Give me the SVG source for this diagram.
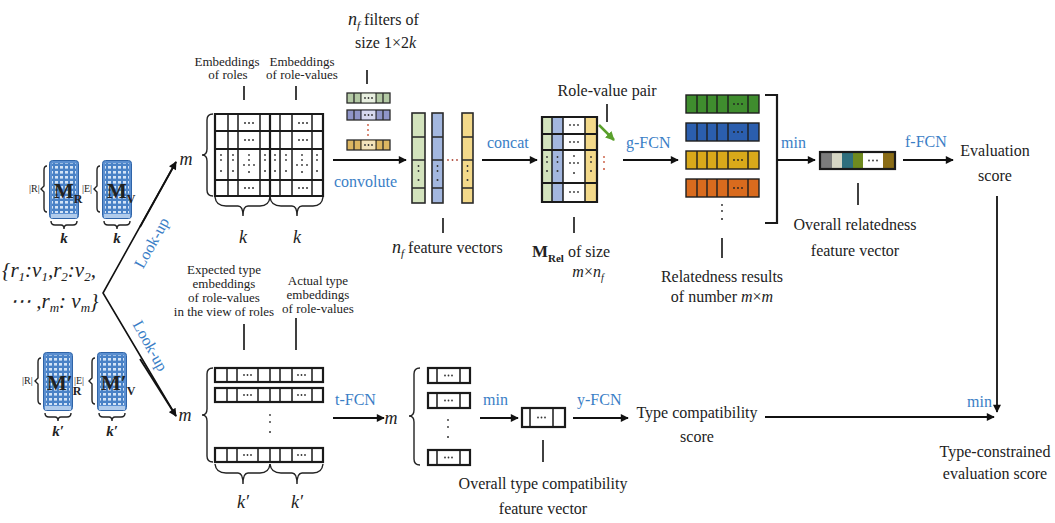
<svg xmlns="http://www.w3.org/2000/svg" width="1055" height="523" viewBox="0 0 1055 523">
  <style>
    text { font-family: "Liberation Serif", "Times New Roman", serif; fill: #222; }
    .s { font-size: 13px; }
    .n { font-size: 16px; }
    .b { font-size: 16px; fill: #3a7ec6; }
    .it { font-style: italic; }
    .bd { font-weight: bold; }
    .c { text-anchor: middle; }
    .ln { stroke: #111; stroke-width: 1.6; fill: none; }
    .arr { stroke: #111; stroke-width: 1.8; fill: none; marker-end: url(#ah); }
    .g { stroke: #1a1a1a; stroke-width: 1.5; fill: none; }
    .gb { stroke: #1a1a1a; stroke-width: 2.2; fill: none; }
    .d { fill: #333; }
    .br { stroke: #222; stroke-width: 1.4; fill: none; }
  </style>
  <defs>
    <marker id="ah" viewBox="0 0 10 10" refX="9" refY="5" markerWidth="9" markerHeight="8" markerUnits="userSpaceOnUse" orient="auto">
      <path d="M0,0 L10,5 L0,10 z" fill="#111"/>
    </marker>
    <marker id="ahg" viewBox="0 0 10 10" refX="9" refY="5" markerWidth="9" markerHeight="9" markerUnits="userSpaceOnUse" orient="auto">
      <path d="M0,0 L10,5 L0,10 z" fill="#5aa02c"/>
    </marker>
    <pattern id="cells" width="5" height="5" patternUnits="userSpaceOnUse">
      <rect width="5" height="5" fill="#4a82c6"/>
      <rect x="1" y="1" width="3" height="2.6" fill="#d4e4f6"/>
    </pattern>
    <!-- embedding matrix icon: blue sheet with a cell grid -->
    <symbol id="mat" viewBox="0 0 30 62">
      <rect x="0.5" y="0.5" width="29" height="58" rx="3" fill="#5b8fd0" stroke="#2f64a8"/>
      <rect x="3" y="3" width="24" height="50" fill="url(#cells)"/>
      <rect x="2" y="54" width="26" height="4" fill="#b0cbeb"/>
    </symbol>
  </defs>

  <rect width="1055" height="523" fill="#fff"/>

  <!-- input role-value set -->
  <g id="input">
    <text x="2" y="277" class="it" font-size="21">{<tspan>r</tspan><tspan font-size="13" dy="4">1</tspan><tspan dy="-4">:</tspan><tspan>v</tspan><tspan font-size="13" dy="4">1</tspan><tspan dy="-4">,</tspan><tspan>r</tspan><tspan font-size="13" dy="4">2</tspan><tspan dy="-4">:</tspan><tspan>v</tspan><tspan font-size="13" dy="4">2</tspan><tspan dy="-4">,</tspan></text>
    <text x="10" y="308" class="it" font-size="21">⋯ ,<tspan>r</tspan><tspan font-size="13" dy="4">m</tspan><tspan dy="-4">: </tspan><tspan>v</tspan><tspan font-size="13" dy="4">m</tspan><tspan dy="-4">}</tspan></text>
  </g>

  <!-- embedding tables -->
  <g id="mat-r">
    <use href="#mat" x="49" y="160" width="30" height="62"/>
    <path class="br" d="M47,166 Q44,166 44,170 L44,186 L41,189 L44,192 L44,208 Q44,212 47,212"/>
    <text x="29" y="192" font-size="10">|R|</text>
    <text x="54" y="198" class="bd" font-size="21" fill="#141c3c">M<tspan font-size="12" dy="5">R</tspan></text>
    <path class="br" d="M51,221 Q51,225 55,225 L61,225 Q64,225 64,229 Q64,225 67,225 L73,225 Q77,225 77,221"/>
    <text x="64" y="243" class="it bd c" font-size="15">k</text>
  </g>
  <g id="mat-v">
    <use href="#mat" x="102" y="160" width="30" height="62"/>
    <path class="br" d="M100,166 Q97,166 97,170 L97,186 L94,189 L97,192 L97,208 Q97,212 100,212"/>
    <text x="82" y="192" font-size="10">|E|</text>
    <text x="107" y="198" class="bd" font-size="21" fill="#141c3c">M<tspan font-size="12" dy="5">V</tspan></text>
    <path class="br" d="M104,221 Q104,225 108,225 L114,225 Q117,225 117,229 Q117,225 120,225 L126,225 Q130,225 130,221"/>
    <text x="117" y="243" class="it bd c" font-size="15">k</text>
  </g>
  <g id="mat-r2">
    <use href="#mat" x="43" y="352" width="30" height="62"/>
    <path class="br" d="M41,358 Q38,358 38,362 L38,378 L35,381 L38,384 L38,400 Q38,404 41,404"/>
    <text x="22" y="384" font-size="10">|R|</text>
    <text x="47" y="390" class="bd" font-size="21" fill="#141c3c">M′<tspan font-size="12" dy="5">R</tspan></text>
    <path class="br" d="M45,413 Q45,417 49,417 L55,417 Q58,417 58,421 Q58,417 61,417 L67,417 Q71,417 71,413"/>
    <text x="58" y="436" class="it bd c" font-size="15">k′</text>
  </g>
  <g id="mat-v2">
    <use href="#mat" x="97" y="352" width="30" height="62"/>
    <path class="br" d="M95,358 Q92,358 92,362 L92,378 L89,381 L92,384 L92,400 Q92,404 95,404"/>
    <text x="74" y="384" font-size="10">|E|</text>
    <text x="101" y="390" class="bd" font-size="21" fill="#141c3c">M′<tspan font-size="12" dy="5">V</tspan></text>
    <path class="br" d="M99,413 Q99,417 103,417 L109,417 Q112,417 112,421 Q112,417 115,417 L121,417 Q125,417 125,413"/>
    <text x="112" y="436" class="it bd c" font-size="15">k′</text>
  </g>

  <!-- look-up connectors and all flow arrows -->
  <g id="connectors">
    <path class="ln" d="M176,162 L103,293 L176,416" stroke-width="1.8"/>
    <path class="arr" d="M140,227 L176,162"/>
    <path class="arr" d="M140,359 L176,416"/>
    <text class="b c" font-size="18" transform="translate(152,243) rotate(-61)" dy="5">Look-up</text>
    <text class="b c" font-size="18" transform="translate(150,346) rotate(61)" dy="5">Look-up</text>

    <path class="arr" d="M333,160 L406,160"/>
    <text x="334" y="187" class="b">convolute</text>
    <path class="arr" d="M482,160 L537,160"/>
    <text x="487" y="148" class="b">concat</text>
    <path d="M599,125 L614,140" stroke="#5aa02c" stroke-width="2.5" fill="none" marker-end="url(#ahg)"/>
    <path class="arr" d="M623,160 L678,160"/>
    <text x="626" y="148" class="b">g-FCN</text>
    <path class="gb" d="M765,95 L777,95 L777,223 L765,223"/>
    <path class="arr" d="M777,160 L815,160"/>
    <text x="781" y="148" class="b">min</text>
    <path class="arr" d="M903,160 L953,160"/>
    <text x="905" y="147" class="b">f-FCN</text>
    <path class="arr" d="M997,196 L997,412"/>

    <path class="arr" d="M333,418 L384,418"/>
    <text x="335" y="405" class="b">t-FCN</text>
    <path class="arr" d="M480,418 L518,418"/>
    <text x="483" y="405" class="b">min</text>
    <path class="arr" d="M573,418 L628,418"/>
    <text x="577" y="405" class="b">y-FCN</text>
    <path class="arr" d="M765,417 L994,417"/>
    <text x="967" y="407" class="b">min</text>
  </g>

  <!-- looked-up embeddings of roles and role-values -->
  <g id="embed">
    <text x="227" y="66" class="s c">Embeddings</text>
    <text x="228" y="79" class="s c">of roles</text>
    <text x="302" y="66" class="s c">Embeddings</text>
    <text x="302" y="79" class="s c">of role-values</text>
    <path class="ln" d="M244,86 V100 M296,86 V100"/>
    <text x="186" y="165" class="it c" font-size="18">m</text>
    <path class="br" d="M213,114 Q207,114 207,120 L207,149 Q207,155 202,155 Q207,155 207,161 L207,190 Q207,196 213,196"/>
    <path class="g" d="M228,114 V196 M238,114 V196 M260,114 V196 M280,114 V196 M292,114 V196 M312,114 V196"/>
    <path class="gb" d="M215,114 H323 V196 H215 Z M270,114 V196 M215,131 H323 M215,149 H323 M215,180 H323"/>
    <g class="d">
      <circle cx="245" cy="123" r="1"/><circle cx="249" cy="123" r="1"/><circle cx="253" cy="123" r="1"/>
      <circle cx="299" cy="123" r="1"/><circle cx="303" cy="123" r="1"/><circle cx="307" cy="123" r="1"/>
      <circle cx="245" cy="140" r="1"/><circle cx="249" cy="140" r="1"/><circle cx="253" cy="140" r="1"/>
      <circle cx="299" cy="140" r="1"/><circle cx="303" cy="140" r="1"/><circle cx="307" cy="140" r="1"/>
      <circle cx="245" cy="188" r="1"/><circle cx="249" cy="188" r="1"/><circle cx="253" cy="188" r="1"/>
      <circle cx="299" cy="188" r="1"/><circle cx="303" cy="188" r="1"/><circle cx="307" cy="188" r="1"/>
      <circle cx="221" cy="155" r="0.9"/><circle cx="221" cy="160" r="0.9"/><circle cx="221" cy="171" r="1"/>
      <circle cx="233" cy="155" r="0.9"/><circle cx="233" cy="160" r="0.9"/><circle cx="233" cy="171" r="1"/>
      <circle cx="265" cy="155" r="0.9"/><circle cx="265" cy="160" r="0.9"/><circle cx="265" cy="171" r="1"/>
      <circle cx="275" cy="155" r="0.9"/><circle cx="275" cy="160" r="0.9"/><circle cx="275" cy="171" r="1"/>
      <circle cx="286" cy="155" r="0.9"/><circle cx="286" cy="160" r="0.9"/><circle cx="286" cy="171" r="1"/>
      <circle cx="317" cy="155" r="0.9"/><circle cx="317" cy="160" r="0.9"/><circle cx="317" cy="171" r="1"/>
      <circle cx="249" cy="155" r="0.9"/><circle cx="249" cy="160" r="0.9"/><circle cx="244" cy="165" r="0.9"/><circle cx="249" cy="165" r="0.9"/><circle cx="254" cy="165" r="0.9"/><circle cx="249" cy="172" r="1"/>
      <circle cx="302" cy="155" r="0.9"/><circle cx="302" cy="160" r="0.9"/><circle cx="297" cy="165" r="0.9"/><circle cx="302" cy="165" r="0.9"/><circle cx="307" cy="165" r="0.9"/><circle cx="302" cy="172" r="1"/>
    </g>
    <path class="br" d="M215,197 Q216,206 226,206 L238,206 Q243,206 243,216 Q243,206 248,206 L260,206 Q269,206 270,197"/>
    <path class="br" d="M270,197 Q271,206 281,206 L292,206 Q297,206 297,216 Q297,206 302,206 L313,206 Q322,206 323,197"/>
    <text x="243" y="243" class="it c" font-size="18">k</text>
    <text x="297" y="243" class="it c" font-size="18">k</text>
  </g>

  <!-- convolution filters -->
  <g id="filters">
    <text x="348" y="25" class="n"><tspan class="it" font-size="18">n</tspan><tspan class="it" font-size="11" dy="4">f</tspan><tspan dy="-4"> filters of</tspan></text>
    <text x="355" y="48" class="n">size 1×2<tspan class="it">k</tspan></text>
    <path class="ln" d="M367,70 V84"/>
    <g stroke="#2a2a2a" stroke-width="1.3">
      <rect x="347" y="93" width="43" height="10" fill="#b3c9a4"/>
      <rect x="347" y="110" width="43" height="10" fill="#8f95c9"/>
      <rect x="347" y="140" width="43" height="10" fill="#ddb661"/>
      <path d="M354,93 V103 M361,93 V103 M376,93 V103 M383,93 V103 M354,110 V120 M361,110 V120 M376,110 V120 M383,110 V120 M354,140 V150 M361,140 V150 M376,140 V150 M383,140 V150"/>
    </g>
    <rect x="361.7" y="93.7" width="13.6" height="8.6" fill="#e8efe0"/>
    <rect x="361.7" y="110.7" width="13.6" height="8.6" fill="#d6d8ef"/>
    <rect x="361.7" y="140.7" width="13.6" height="8.6" fill="#f3e3bb"/>
    <g class="d">
      <circle cx="365" cy="98" r="0.9"/><circle cx="368.5" cy="98" r="0.9"/><circle cx="372" cy="98" r="0.9"/>
      <circle cx="365" cy="115" r="0.9"/><circle cx="368.5" cy="115" r="0.9"/><circle cx="372" cy="115" r="0.9"/>
      <circle cx="365" cy="145" r="0.9"/><circle cx="368.5" cy="145" r="0.9"/><circle cx="372" cy="145" r="0.9"/>
    </g>
    <g fill="#c8553a"><circle cx="368" cy="125" r="0.9"/><circle cx="368" cy="130" r="0.9"/><circle cx="368" cy="135" r="0.9"/></g>
  </g>

  <!-- feature vectors produced by the filters -->
  <g id="features">
    <g stroke="#2a2a2a" stroke-width="1.6">
      <rect x="412" y="113" width="13" height="90" fill="#d3e3bd"/>
      <rect x="432" y="113" width="11" height="90" fill="#a3b7df"/>
      <rect x="462" y="113" width="11" height="90" fill="#f3d98a"/>
      <path d="M412,137 H425 M412,160 H425 M412,188 H425 M432,137 H443 M432,160 H443 M432,188 H443 M462,137 H473 M462,160 H473 M462,188 H473"/>
    </g>
    <g class="d">
      <circle cx="418.5" cy="166" r="0.9"/><circle cx="418.5" cy="171" r="0.9"/><circle cx="418.5" cy="180" r="1"/>
      <circle cx="437.5" cy="166" r="0.9"/><circle cx="437.5" cy="171" r="0.9"/><circle cx="437.5" cy="180" r="1"/>
      <circle cx="467.5" cy="166" r="0.9"/><circle cx="467.5" cy="171" r="0.9"/><circle cx="467.5" cy="180" r="1"/>
    </g>
    <g fill="#b04a3a"><circle cx="448" cy="160" r="0.9"/><circle cx="452.5" cy="160" r="0.9"/><circle cx="457" cy="160" r="0.9"/></g>
    <path class="ln" d="M443,218 V233"/>
    <text x="392" y="253" class="n"><tspan class="it" font-size="18">n</tspan><tspan class="it" font-size="11" dy="4">f</tspan><tspan dy="-4"> feature vectors</tspan></text>
  </g>

  <!-- concatenated relation matrix -->
  <g id="mrel">
    <text x="607" y="96" class="n c">Role-value pair</text>
    <path class="ln" d="M607,104 V122"/>
    <rect x="542" y="117" width="10" height="85" fill="#d3e3bd"/>
    <rect x="552" y="117" width="11" height="85" fill="#a3b7df"/>
    <rect x="585" y="117" width="12" height="85" fill="#f3d98a"/>
    <path class="g" d="M552,117 V202 M563,117 V202 M585,117 V202"/>
    <path class="gb" d="M542,117 H597 V202 H542 Z M542,134 H597 M542,150 H597 M542,183 H597"/>
    <g class="d">
      <circle cx="570" cy="125" r="0.9"/><circle cx="574" cy="125" r="0.9"/><circle cx="578" cy="125" r="0.9"/>
      <circle cx="570" cy="142" r="0.9"/><circle cx="574" cy="142" r="0.9"/><circle cx="578" cy="142" r="0.9"/>
      <circle cx="570" cy="192" r="0.9"/><circle cx="574" cy="192" r="0.9"/><circle cx="578" cy="192" r="0.9"/>
      <circle cx="574" cy="156" r="0.9"/><circle cx="570" cy="163" r="0.9"/><circle cx="574" cy="163" r="0.9"/><circle cx="578" cy="163" r="0.9"/><circle cx="574" cy="173" r="1"/>
      <circle cx="547" cy="157" r="0.9"/><circle cx="547" cy="162" r="0.9"/><circle cx="547" cy="171" r="1"/>
      <circle cx="557.5" cy="157" r="0.9"/><circle cx="557.5" cy="162" r="0.9"/><circle cx="557.5" cy="171" r="1"/>
      <circle cx="591" cy="157" r="0.9"/><circle cx="591" cy="162" r="0.9"/><circle cx="591" cy="171" r="1"/>
    </g>
    <g fill="#c8553a"><circle cx="604" cy="157" r="0.9"/><circle cx="604" cy="162" r="0.9"/><circle cx="604" cy="169" r="1"/></g>
    <path class="ln" d="M574,217 V233"/>
    <text x="532" y="257" class="n"><tspan class="bd" font-size="17">M</tspan><tspan class="bd" font-size="11" dy="5">Rel</tspan><tspan dy="-5"> of size</tspan></text>
    <text x="588" y="277" class="n c it">m<tspan font-style="normal">×</tspan>n<tspan font-size="10" dy="4">f</tspan></text>
  </g>

  <!-- relatedness results of all role-value pairs -->
  <g id="related">
    <g stroke="#1e1e1e" stroke-width="1.4">
      <rect x="686" y="95" width="73" height="18" fill="#3f8d2e"/>
      <rect x="686" y="123" width="73" height="18" fill="#2b5eae"/>
      <rect x="686" y="151" width="73" height="18" fill="#d9a91a"/>
      <rect x="686" y="179" width="73" height="18" fill="#d96b1e"/>
      <path d="M697,95 V113 M707,95 V113 M717,95 V113 M728,95 V113 M748,95 V113 M697,123 V141 M707,123 V141 M717,123 V141 M728,123 V141 M748,123 V141 M697,151 V169 M707,151 V169 M717,151 V169 M728,151 V169 M748,151 V169 M697,179 V197 M707,179 V197 M717,179 V197 M728,179 V197 M748,179 V197"/>
    </g>
    <g fill="#222">
      <circle cx="734" cy="104" r="0.9"/><circle cx="738" cy="104" r="0.9"/><circle cx="742" cy="104" r="0.9"/>
      <circle cx="734" cy="132" r="0.9"/><circle cx="738" cy="132" r="0.9"/><circle cx="742" cy="132" r="0.9"/>
      <circle cx="734" cy="160" r="0.9"/><circle cx="738" cy="160" r="0.9"/><circle cx="742" cy="160" r="0.9"/>
      <circle cx="734" cy="188" r="0.9"/><circle cx="738" cy="188" r="0.9"/><circle cx="742" cy="188" r="0.9"/>
      <circle cx="722" cy="205" r="0.9"/><circle cx="722" cy="211" r="0.9"/><circle cx="722" cy="219" r="1"/>
    </g>
    <path class="ln" d="M722,238 V258"/>
    <text x="722" y="282" class="n c">Relatedness results</text>
    <text x="722" y="302" class="n c">of number <tspan class="it">m</tspan>×<tspan class="it">m</tspan></text>
  </g>

  <!-- overall relatedness feature vector -->
  <g id="overall">
    <rect x="820" y="152" width="12" height="17" fill="#7b7b7b"/>
    <rect x="832" y="152" width="10" height="17" fill="#d6d6c4"/>
    <rect x="842" y="152" width="11" height="17" fill="#2f6f7d"/>
    <rect x="853" y="152" width="10" height="17" fill="#6f8a1f"/>
    <rect x="863" y="152" width="20" height="17" fill="#ffffff"/>
    <rect x="883" y="152" width="12" height="17" fill="#8a6c16"/>
    <rect x="820" y="152" width="75" height="17" fill="none" stroke="#1a1a1a" stroke-width="2.2"/>
    <g class="d"><circle cx="869" cy="160.5" r="0.9"/><circle cx="873" cy="160.5" r="0.9"/><circle cx="877" cy="160.5" r="0.9"/></g>
    <path class="ln" d="M858,183 V205"/>
    <text x="855" y="230" class="n c">Overall relatedness</text>
    <text x="855" y="256" class="n c">feature vector</text>
  </g>

  <g id="eval">
    <text x="995" y="156" class="n c">Evaluation</text>
    <text x="995" y="181" class="n c">score</text>
  </g>

  <!-- type embeddings -->
  <g id="type-embed">
    <text x="224" y="274" class="s c">Expected type</text>
    <text x="224" y="288" class="s c">embeddings</text>
    <text x="224" y="302" class="s c">of role-values</text>
    <text x="224" y="316" class="s c">in the view of roles</text>
    <text x="318" y="285" class="s c">Actual type</text>
    <text x="318" y="299" class="s c">embeddings</text>
    <text x="318" y="313" class="s c">of role-values</text>
    <path class="ln" d="M244,324 V350 M296,318 V350"/>
    <text x="185" y="421" class="it c" font-size="18">m</text>
    <path class="br" d="M213,368 Q207,368 207,374 L207,409 Q207,415 202,415 Q207,415 207,421 L207,456 Q207,462 213,462"/>
    <g class="g">
      <path d="M227,368 V382 M237,368 V382 M258,368 V382 M280,368 V382 M292,368 V382 M312,368 V382 M270,368 V382"/>
      <path d="M227,388 V402 M237,388 V402 M258,388 V402 M280,388 V402 M292,388 V402 M312,388 V402 M270,388 V402"/>
      <path d="M227,448 V462 M237,448 V462 M258,448 V462 M280,448 V462 M292,448 V462 M312,448 V462 M270,448 V462"/>
    </g>
    <g class="gb">
      <rect x="215" y="368" width="108" height="14"/>
      <rect x="215" y="388" width="108" height="14"/>
      <rect x="215" y="448" width="108" height="14"/>
    </g>
    <g class="d">
      <circle cx="244" cy="375" r="0.9"/><circle cx="247.5" cy="375" r="0.9"/><circle cx="251" cy="375" r="0.9"/>
      <circle cx="298" cy="375" r="0.9"/><circle cx="301.5" cy="375" r="0.9"/><circle cx="305" cy="375" r="0.9"/>
      <circle cx="244" cy="395" r="0.9"/><circle cx="247.5" cy="395" r="0.9"/><circle cx="251" cy="395" r="0.9"/>
      <circle cx="298" cy="395" r="0.9"/><circle cx="301.5" cy="395" r="0.9"/><circle cx="305" cy="395" r="0.9"/>
      <circle cx="244" cy="455" r="0.9"/><circle cx="247.5" cy="455" r="0.9"/><circle cx="251" cy="455" r="0.9"/>
      <circle cx="298" cy="455" r="0.9"/><circle cx="301.5" cy="455" r="0.9"/><circle cx="305" cy="455" r="0.9"/>
      <circle cx="270" cy="415" r="0.9"/><circle cx="270" cy="422" r="0.9"/><circle cx="270" cy="432" r="1"/>
    </g>
    <path class="br" d="M215,464 Q216,473 226,473 L238,473 Q243,473 243,484 Q243,473 248,473 L260,473 Q269,473 270,464"/>
    <path class="br" d="M270,464 Q271,473 281,473 L292,473 Q297,473 297,484 Q297,473 302,473 L313,473 Q322,473 323,464"/>
    <text x="243" y="508" class="it c" font-size="18">k′</text>
    <text x="297" y="508" class="it c" font-size="18">k′</text>
  </g>

  <!-- per-pair type compatibility vectors -->
  <g id="type-pairs">
    <text x="391" y="424" class="it c" font-size="18">m</text>
    <path class="br" d="M420,368 Q414,368 414,374 L414,410 Q414,416 409,416 Q414,416 414,422 L414,459 Q414,465 420,465"/>
    <g class="gb">
      <rect x="428" y="368" width="42" height="15"/>
      <rect x="428" y="393" width="42" height="15"/>
      <rect x="428" y="450" width="42" height="15"/>
    </g>
    <path class="g" d="M437,368 V383 M460,368 V383 M437,393 V408 M460,393 V408 M437,450 V465 M460,450 V465"/>
    <g class="d">
      <circle cx="445" cy="375.5" r="0.9"/><circle cx="448.5" cy="375.5" r="0.9"/><circle cx="452" cy="375.5" r="0.9"/>
      <circle cx="445" cy="400.5" r="0.9"/><circle cx="448.5" cy="400.5" r="0.9"/><circle cx="452" cy="400.5" r="0.9"/>
      <circle cx="445" cy="457.5" r="0.9"/><circle cx="448.5" cy="457.5" r="0.9"/><circle cx="452" cy="457.5" r="0.9"/>
      <circle cx="448" cy="420" r="0.9"/><circle cx="448" cy="427" r="0.9"/><circle cx="448" cy="437" r="1"/>
    </g>
  </g>

  <!-- overall type compatibility vector -->
  <g id="type-overall">
    <rect x="522" y="408" width="43" height="19" class="gb"/>
    <path class="g" d="M530,408 V427 M553,408 V427"/>
    <g class="d"><circle cx="538" cy="417.5" r="0.9"/><circle cx="541.5" cy="417.5" r="0.9"/><circle cx="545" cy="417.5" r="0.9"/></g>
    <path class="ln" d="M543,440 V462"/>
    <text x="543" y="489" class="n c">Overall type compatibility</text>
    <text x="543" y="514" class="n c">feature vector</text>
  </g>

  <g id="type-score">
    <text x="697" y="418" class="n c">Type compatibility</text>
    <text x="697" y="442" class="n c">score</text>
  </g>

  <g id="final">
    <text x="995" y="457" class="n c">Type-constrained</text>
    <text x="995" y="479" class="n c">evaluation score</text>
  </g>
</svg>
